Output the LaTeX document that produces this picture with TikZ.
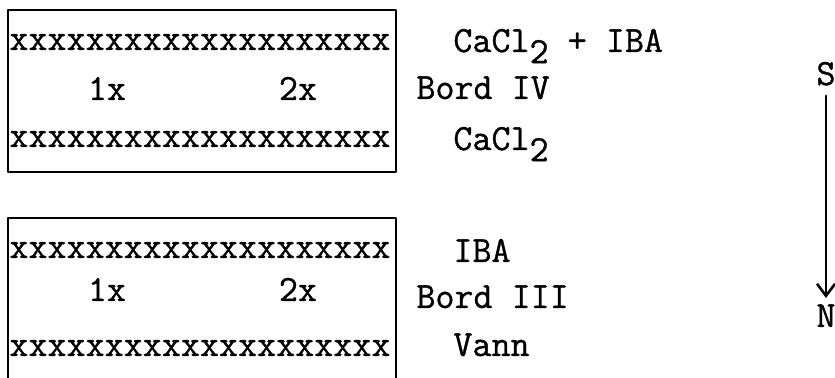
\documentclass[tikz,border=0pt]{standalone}
\usepackage{fontspec}
\setmonofont{Latin Modern Mono}[FakeBold=0.9]
\usetikzlibrary{%
  arrows.meta,%
  positioning%
}

\newcommand{\xxrow}{xxxxxxxxxxxxxxxxxxxx}
\newcommand{\lowtwo}{\raisebox{-0.3em}{2}}

\begin{document}
\begin{tikzpicture}[
    x=0.5pt,y=-0.5pt,
    >={Straight Barb[length=6pt,width=9pt]},
    line join=round,line cap=round,
    bed/.style={rectangle,draw,line width=1.2pt,inner sep=0pt,
        minimum width=194pt},
    row/.style={inner sep=0pt,anchor=base west},
    mid/.style={inner sep=0pt,anchor=base},
    lab/.style={inner sep=0pt,anchor=base west},
    pole/.style={inner sep=0pt,anchor=base}
  ]

    \ttfamily\fontsize{18.5}{20}\selectfont
    \clip (0,0) rectangle (835,378);

    % Bord IV
    \node [bed,minimum height=81pt] (bedIV) at (202,91) {};
    \node [row] (ivA) at (9,50)  {\xxrow};
    \node [mid] (ivL) at (107,100) {1x};
    \node [mid] (ivR) at (298,100) {2x};
    \node [row] (ivB) at (9,147) {\xxrow};
    \node [lab] (ivtop) at (453,52)  {CaCl\lowtwo{} + IBA};
    \node [lab] (ivname) at (416,99) {Bord IV};
    \node [lab] (ivbot) at (453,150) {CaCl\lowtwo};

    % Bord III
    \node [bed,minimum height=100pt] (bedIII) at (202,318) {};
    \node [row] (iiiA) at (9,258)  {\xxrow};
    \node [mid] (iiiL) at (107,301) {1x};
    \node [mid] (iiiR) at (298,301) {2x};
    \node [row] (iiiB) at (9,356) {\xxrow};
    \node [lab] (iiitop) at (453,262)  {IBA};
    \node [lab] (iiiname) at (416,308) {Bord III};
    \node [lab] (iiibot) at (453,356) {Vann};

    % S -> N
    \node [pole] (s) at (826,85)  {S};
    \node [pole] (n) at (826,327) {N};
    \draw [->,line width=1.3pt,shorten <=5pt,shorten >=3pt] (s.south) -- (n.north);
\end{tikzpicture}
\end{document}
